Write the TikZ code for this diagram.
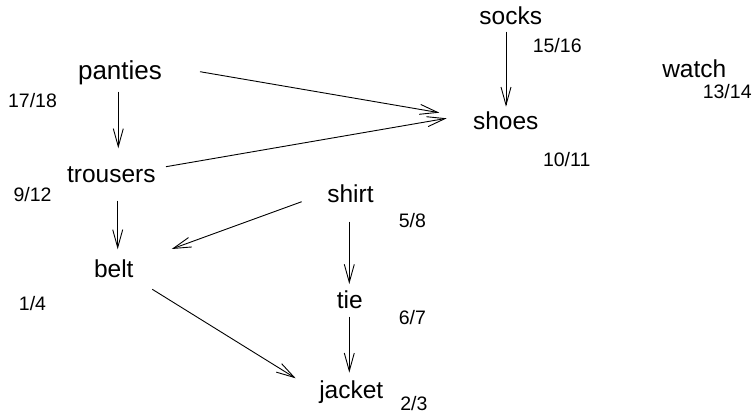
\documentclass[tikz,border=0pt]{standalone}
\usepackage{fontspec}
\setmainfont{Liberation Sans}
\usetikzlibrary{arrows.meta}
\tikzset{
  garment/.style={anchor=base, inner sep=0pt, font=\fontsize{24.5}{28}\selectfont},
  order/.style={anchor=base, inner sep=0pt, font=\fontsize{19.5}{23}\selectfont},
  arr/.style={line width=0.9pt, -{Straight Barb[length=18pt,width=10pt]}}
}
\begin{document}
\begin{tikzpicture}[x=1pt,y=-1pt]
  \useasboundingbox (0,0) rectangle (755,414);

  % garments
  \node[garment, font=\fontsize{26}{30}\selectfont] (panties) at (120,80) {panties};
  \node[garment] (trousers) at (111.3,182.7) {trousers};
  \node[garment] (belt)     at (113.8,277.7) {belt};
  \node[garment] (socks)    at (510.8,25)    {socks};
  \node[garment] (shoes)    at (505.8,129.3) {shoes};
  \node[garment] (watch)    at (694.3,77.3)  {watch};
  \node[garment] (shirt)    at (350.5,202.7) {shirt};
  \node[garment] (tie)      at (349.7,308.3) {tie};
  \node[garment] (jacket)   at (351.3,398)   {jacket};

  % discovery / finishing times
  \node[order] (tpanties)  at (32.5,107.3)  {17/18};
  \node[order] (ttrousers) at (32.5,201.7)  {9/12};
  \node[order] (tbelt)     at (32.5,310.7)  {1/4};
  \node[order] (tsocks)    at (557.2,52.7)  {15/16};
  \node[order] (tshoes)    at (566.7,166.7) {10/11};
  \node[order] (twatch)    at (727.2,99)    {13/14};
  \node[order] (tshirt)    at (412.3,227.7) {5/8};
  \node[order] (ttie)      at (412.3,324.3) {6/7};
  \node[order] (tjacket)   at (413.8,410.5) {2/3};

  % dependencies
  \draw[arr] ([xshift=-1.7pt,yshift=-11.7pt]panties.base) -- ([xshift=7pt,yshift=34.4pt]trousers.base);
  \draw[arr] ([xshift=6.4pt,yshift=-18pt]trousers.base) -- ([xshift=3.9pt,yshift=28.4pt]belt.base);
  \draw[arr] ([xshift=38.5pt,yshift=-11.6pt]belt.base) -- ([xshift=-55.6pt,yshift=19.7pt]jacket.base);
  \draw[arr] ([xshift=-48.8pt,yshift=1pt]shirt.base) -- ([xshift=57.9pt,yshift=28.7pt]belt.base);
  \draw[arr] ([xshift=-1.2pt,yshift=-19pt]shirt.base) -- ([xshift=-0.4pt,yshift=24.3pt]tie.base);
  \draw[arr] ([xshift=-0.4pt,yshift=-8.4pt]tie.base) -- ([xshift=-2pt,yshift=25.3pt]jacket.base);
  \draw[arr] ([xshift=-4.8pt,yshift=-6.7pt]socks.base) -- ([xshift=0.2pt,yshift=22.6pt]shoes.base);
  \draw[arr] ([xshift=80pt,yshift=8.3pt]panties.base) -- ([xshift=-66.5pt,yshift=16.6pt]shoes.base);
  \draw[arr] ([xshift=54.7pt,yshift=16pt]trousers.base) -- ([xshift=-59.1pt,yshift=11pt]shoes.base);
\end{tikzpicture}
\end{document}
